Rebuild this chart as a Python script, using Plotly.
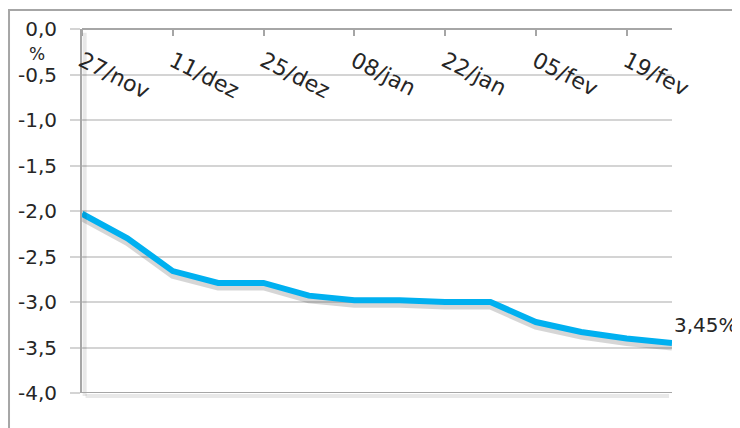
import plotly.graph_objects as go

# ---- data ----
dates = ["2009-11-27", "2009-12-04", "2009-12-11", "2009-12-18", "2009-12-25",
         "2010-01-01", "2010-01-08", "2010-01-15", "2010-01-22", "2010-01-29",
         "2010-02-05", "2010-02-12", "2010-02-19", "2010-02-26"]
values = [-2.03, -2.30, -2.66, -2.79, -2.79, -2.93, -2.98, -2.98, -3.00, -3.00,
          -3.22, -3.33, -3.40, -3.45]

x_tick_vals = ["2009-11-27", "2009-12-11", "2009-12-25", "2010-01-08",
               "2010-01-22", "2010-02-05", "2010-02-19"]
x_tick_text = ["27/nov", "11/dez", "25/dez", "08/jan", "22/jan", "05/fev", "19/fev"]

y_tick_vals = [0, -0.5, -1, -1.5, -2, -2.5, -3, -3.5, -4]
y_tick_text = ["0,0", "-0,5", "-1,0", "-1,5", "-2,0", "-2,5", "-3,0", "-3,5", "-4,0"]

unit_label = "%"
end_label = f"{abs(values[-1]):.2f}".replace(".", ",") + "%"

FONT = "DejaVu Sans"
TXT = "#262626"
GRID = "#d4d4d4"
AXIS = "#a6a6a6"
SHADOW = "rgba(0,0,0,0.09)"

fig = go.Figure()

# soft shadow under the line
fig.add_trace(go.Scatter(
    x=dates, y=[v - 0.045 for v in values], mode="lines",
    line=dict(color="rgba(0,0,0,0.16)", width=7),
    hoverinfo="skip", showlegend=False,
))
fig.add_trace(go.Scatter(
    x=dates, y=values, mode="lines",
    line=dict(color="#00B0F0", width=6),
    showlegend=False,
))

fig.update_layout(
    width=740, height=428,
    margin=dict(l=74, r=76, t=21, b=43),
    paper_bgcolor="white", plot_bgcolor="white",
    font=dict(family=FONT, size=20, color=TXT),
    xaxis=dict(
        type="date", automargin=False,
        range=[dates[0], dates[-1]],
        anchor="free", position=1.0, side="bottom",
        tickmode="array", tickvals=x_tick_vals, ticktext=x_tick_text,
        tickangle=27,
        ticks="outside", ticklen=6, tickcolor=AXIS, tickwidth=1.5,
        showline=True, linecolor=AXIS, linewidth=1.5,
        showgrid=False, zeroline=False,
        ticklabelstandoff=4,
        tickfont=dict(family=FONT, size=22, color=TXT),
    ),
    yaxis=dict(
        range=[-4, 0], automargin=False,
        tickmode="array", tickvals=y_tick_vals, ticktext=y_tick_text,
        ticks="outside", ticklen=10, tickcolor=GRID, tickwidth=1.5,
        showline=True, linecolor=AXIS, linewidth=2,
        showgrid=True, gridcolor=GRID, gridwidth=1.5,
        zeroline=False, ticklabelstandoff=9,
        tickfont=dict(family=FONT, size=20, color=TXT),
    ),
    shapes=[
        # soft shadows of the axis lines
        dict(type="line", xref="paper", yref="paper", x0=0.0045, x1=0.0045, y0=-0.008, y1=0.99,
             line=dict(color=SHADOW, width=4)),
        dict(type="line", xref="paper", yref="paper", x0=0.006, x1=0.995, y0=-0.008, y1=-0.008,
             line=dict(color=SHADOW, width=4)),
        # bottom border of plot area
        dict(type="line", xref="paper", yref="y", x0=0, x1=1, y0=-4, y1=-4,
             line=dict(color=AXIS, width=2)),
        # outer frame
        dict(type="rect", xref="paper", yref="paper",
             x0=-0.1237, x1=1.2, y0=-0.3, y1=1.052,
             line=dict(color=AXIS, width=2), fillcolor="rgba(0,0,0,0)", layer="below"),
    ],
    annotations=[
        dict(text=unit_label, xref="paper", yref="paper", x=-0.076, y=0.93,
             showarrow=False, xanchor="center", yanchor="middle",
             font=dict(family=FONT, size=17, color=TXT)),
        dict(text=end_label, x=dates[-1], y=values[-1], xref="x", yref="y",
             showarrow=False, xanchor="left", yanchor="middle",
             xshift=0, yshift=18,
             font=dict(family=FONT, size=20, color=TXT)),
    ],
)

fig.write_html("out.html")
